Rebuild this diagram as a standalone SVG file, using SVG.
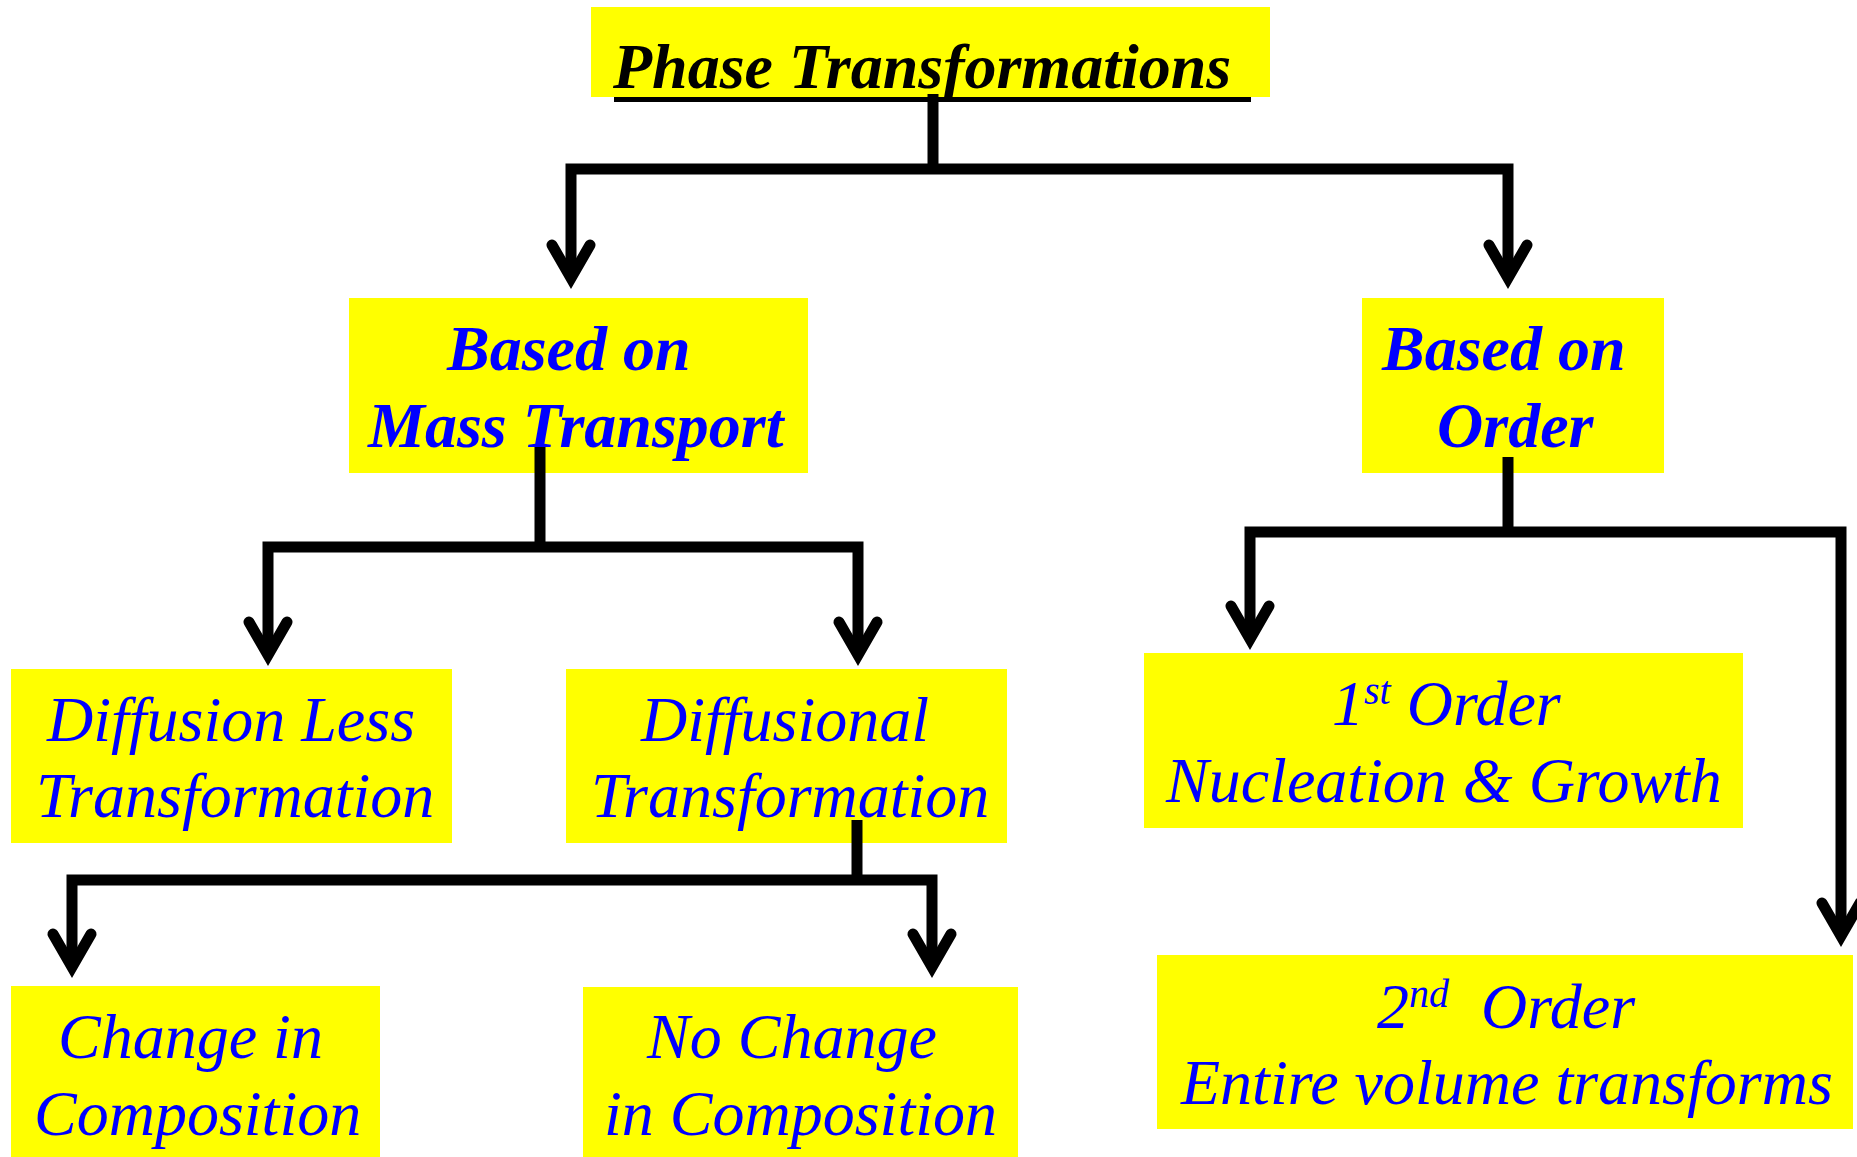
<svg xmlns="http://www.w3.org/2000/svg" width="1857" height="1157" viewBox="0 0 1857 1157">
<style>
.box{fill:#FFFF00}
.t{font-family:"Liberation Serif","Times New Roman",serif;font-size:64px;font-style:italic;fill:#0000FF}
.b{font-weight:bold}
.k{fill:#000000}
.c{fill:none;stroke:#000000;stroke-width:11;stroke-linejoin:miter}
</style>
<defs>
<path id="ah" d="M -19 -45 L 0 -12 L 19 -45" fill="none" stroke="#000000" stroke-width="11" stroke-linecap="round" stroke-linejoin="miter" stroke-miterlimit="10"/>
</defs>
<rect x="0" y="0" width="1857" height="1157" fill="#FFFFFF"/>
<g id="node-title">
<rect class="box" x="591" y="7" width="679" height="90"/>
<text class="t b k" x="613" y="88">Phase Transformations</text>
<rect x="614" y="97" width="637" height="5" fill="#000000"/>
</g>
<g id="node-mass">
<rect class="box" x="349" y="298" width="459" height="175"/>
<text class="t b" x="447" y="370">Based on</text>
<text class="t b" x="368" y="447">Mass Transport</text>
</g>
<g id="node-order">
<rect class="box" x="1362" y="298" width="302" height="175"/>
<text class="t b" x="1382" y="370">Based on</text>
<text class="t b" x="1437" y="447">Order</text>
</g>
<g id="node-diffusionless">
<rect class="box" x="11" y="669" width="441" height="174"/>
<text class="t" x="47" y="741">Diffusion Less</text>
<text class="t" x="36" y="817">Transformation</text>
</g>
<g id="node-diffusional">
<rect class="box" x="566" y="669" width="441" height="174"/>
<text class="t" x="641" y="741">Diffusional</text>
<text class="t" x="591" y="817">Transformation</text>
</g>
<g id="node-first">
<rect class="box" x="1144" y="653" width="599" height="175"/>
<text class="t" x="1332" y="725" xml:space="preserve">1<tspan font-size="40" dy="-21">st</tspan><tspan dy="21"> Order</tspan></text>
<text class="t" x="1166" y="802">Nucleation &amp; Growth</text>
</g>
<g id="node-second">
<rect class="box" x="1157" y="955" width="696" height="174"/>
<text class="t" x="1377" y="1028" xml:space="preserve">2<tspan font-size="40" dy="-21">nd</tspan><tspan dy="21">  Order</tspan></text>
<text class="t" x="1181" y="1104">Entire volume transforms</text>
</g>
<g id="node-change">
<rect class="box" x="11" y="986" width="369" height="171"/>
<text class="t" x="58" y="1058">Change in</text>
<text class="t" x="34" y="1135">Composition</text>
</g>
<g id="node-nochange">
<rect class="box" x="583" y="987" width="435" height="170"/>
<text class="t" x="647" y="1058">No Change</text>
<text class="t" x="604" y="1135">in Composition</text>
</g>
<g id="connectors">
<path class="c" d="M 933 94 V 169"/>
<path class="c" d="M 571 278 V 169 H 1508 V 278"/>
<use href="#ah" x="571" y="290"/>
<use href="#ah" x="1508" y="290"/>
<path class="c" d="M 540 447 V 547"/>
<path class="c" d="M 268 655 V 547 H 858 V 655"/>
<use href="#ah" x="268" y="667"/>
<use href="#ah" x="858" y="667"/>
<path class="c" d="M 857 820 V 880"/>
<path class="c" d="M 72 967 V 880 H 932 V 967"/>
<use href="#ah" x="72" y="979"/>
<use href="#ah" x="932" y="979"/>
<path class="c" d="M 1508 457 V 532"/>
<path class="c" d="M 1250 639 V 532 H 1841 V 936"/>
<use href="#ah" x="1250" y="651"/>
<use href="#ah" x="1841" y="948"/>
</g>
</svg>
